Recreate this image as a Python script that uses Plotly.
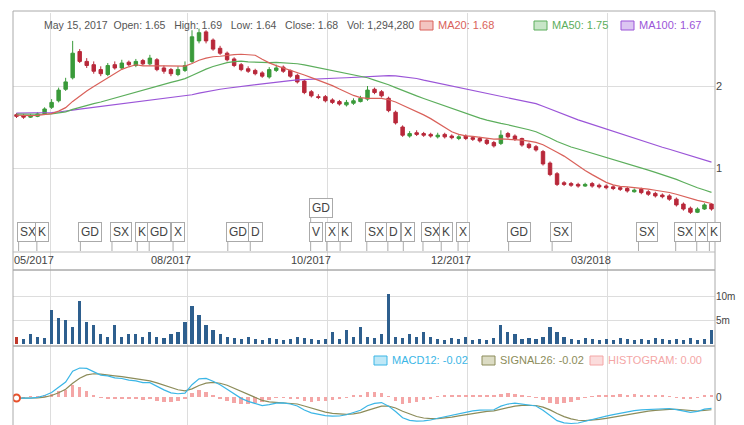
import plotly.graph_objects as go
import pandas as pd

prior_closes = [1.58,1.60,1.62,1.61,1.63,1.65,1.64,1.66,1.68,1.67,
 1.70,1.72,1.71,1.69,1.70,1.72,1.74,1.73,1.71,1.70,
 1.68,1.69,1.70,1.72,1.71,1.69,1.68,1.67,1.66,1.68,
 1.70,1.69,1.67,1.66,1.65,1.66,1.67,1.65,1.64,1.66,
 1.67,1.66,1.64,1.63,1.65,1.66,1.64,1.63,1.64,1.65]
opens = [1.65,1.64,1.62,1.63,1.66,1.74,1.82,1.96,2.10,2.42,
 2.30,2.26,2.20,2.14,2.26,2.22,2.29,2.25,2.31,2.27,
 2.32,2.22,2.20,2.14,2.19,2.30,2.55,2.66,2.56,2.46,
 2.40,2.33,2.26,2.21,2.19,2.16,2.11,2.19,2.23,2.19,
 2.13,2.06,1.93,1.87,1.87,1.83,1.81,1.77,1.79,1.81,
 1.84,1.96,1.93,1.85,1.68,1.50,1.39,1.43,1.42,1.41,
 1.38,1.41,1.39,1.36,1.39,1.37,1.36,1.34,1.31,1.30,
 1.42,1.39,1.36,1.29,1.26,1.20,1.06,0.93,0.82,0.81,
 0.80,0.78,0.81,0.79,0.78,0.77,0.76,0.75,0.71,0.74,
 0.71,0.69,0.67,0.66,0.62,0.56,0.51,0.46,0.50,0.56]
highs = [1.67,1.66,1.66,1.68,1.74,1.84,1.98,2.10,2.55,2.45,
 2.34,2.30,2.24,2.28,2.30,2.32,2.31,2.33,2.33,2.38,
 2.34,2.25,2.22,2.24,2.30,2.68,2.70,2.68,2.58,2.49,
 2.42,2.35,2.28,2.24,2.21,2.18,2.23,2.26,2.25,2.20,
 2.15,2.08,1.95,1.90,1.89,1.85,1.83,1.83,1.85,1.88,
 2.00,1.98,1.95,1.87,1.70,1.52,1.45,1.46,1.44,1.43,
 1.43,1.43,1.41,1.40,1.41,1.39,1.38,1.36,1.33,1.46,
 1.44,1.41,1.37,1.31,1.28,1.22,1.08,0.95,0.84,0.83,
 0.82,0.82,0.83,0.81,0.80,0.79,0.78,0.77,0.75,0.76,
 0.73,0.71,0.69,0.68,0.64,0.58,0.53,0.52,0.57,0.57]
lows = [1.61,1.60,1.61,1.62,1.65,1.72,1.80,1.94,2.08,2.28,
 2.22,2.15,2.12,2.12,2.20,2.20,2.24,2.23,2.25,2.25,
 2.18,2.15,2.12,2.12,2.17,2.28,2.52,2.52,2.43,2.38,
 2.30,2.23,2.18,2.16,2.13,2.10,2.09,2.17,2.16,2.10,
 2.03,1.90,1.86,1.84,1.80,1.78,1.76,1.75,1.77,1.80,
 1.82,1.90,1.86,1.68,1.53,1.38,1.37,1.39,1.38,1.37,
 1.36,1.36,1.35,1.34,1.34,1.33,1.31,1.28,1.25,1.28,
 1.36,1.33,1.26,1.23,1.20,1.03,0.90,0.78,0.78,0.77,
 0.76,0.77,0.76,0.75,0.74,0.73,0.72,0.70,0.70,0.68,
 0.66,0.64,0.63,0.60,0.53,0.48,0.44,0.45,0.49,0.48]
closes = [1.63,1.62,1.64,1.66,1.72,1.80,1.95,2.05,2.40,2.30,
 2.25,2.18,2.15,2.25,2.22,2.28,2.26,2.30,2.27,2.34,
 2.20,2.18,2.15,2.20,2.25,2.60,2.65,2.55,2.45,2.40,
 2.32,2.25,2.20,2.18,2.15,2.12,2.20,2.22,2.18,2.12,
 2.05,1.92,1.88,1.86,1.82,1.80,1.78,1.80,1.82,1.85,
 1.95,1.92,1.88,1.70,1.55,1.40,1.42,1.41,1.40,1.39,
 1.40,1.38,1.37,1.38,1.36,1.35,1.33,1.30,1.27,1.40,
 1.38,1.35,1.28,1.25,1.22,1.05,0.92,0.80,0.80,0.79,
 0.78,0.80,0.78,0.77,0.76,0.75,0.74,0.72,0.73,0.70,
 0.68,0.66,0.65,0.62,0.55,0.50,0.46,0.50,0.55,0.50]
volumes_m = [1.5,1.0,2.0,1.5,1.2,7.0,5.5,5.0,3.5,9.0,
 4.5,4.0,2.0,1.5,4.0,1.5,2.0,2.0,1.5,2.5,
 1.5,1.2,2.0,2.5,4.5,8.0,6.0,4.0,3.0,2.0,
 1.5,1.2,1.0,1.5,1.0,0.8,1.2,1.0,0.8,1.0,
 1.5,1.2,1.0,0.8,1.0,2.5,1.0,3.0,1.5,3.5,
 1.5,1.2,2.0,10.5,1.5,1.2,2.0,1.5,2.5,1.5,
 1.0,0.8,1.2,1.0,1.5,0.8,1.0,0.8,1.2,4.0,
 2.5,2.0,1.0,1.2,1.0,1.5,3.5,2.5,1.5,1.0,
 0.8,1.2,1.0,0.8,1.0,0.8,1.2,1.0,0.8,1.0,
 0.8,1.2,1.0,0.8,1.0,0.8,1.2,0.8,1.0,3.0]
date_ticks = [4.8, 24.4, 44.3, 64.2, 84.2]
date_labels = ["05/2017", "08/2017", "10/2017", "12/2017", "03/2018"]
flag_labels = ["SX","K","GD","SX","K","GD","X","GD","D","V","X","K","SX","D","X","SX","K","X","GD","SX","SX","SX","X","K"]
flag_idx =    [0.0,2.6,8.8,13.3,16.9,18.6,22.0,29.8,33.0,41.6,43.9,45.8,49.6,52.6,54.8,57.6,60.2,62.6,69.8,76.0,88.3,93.6,96.6,98.4]

n = len(closes)
x = list(range(n))
np_ = len(prior_closes)
s = pd.Series(prior_closes + closes)
ma20 = s.rolling(10, min_periods=1).mean()[np_:]
ma50 = s.rolling(25, min_periods=1).mean()[np_:]
ma100 = s.rolling(50, min_periods=1).mean()[np_:]
macd_all = s.ewm(span=6, adjust=False).mean() - s.ewm(span=13, adjust=False).mean()
sig_all = macd_all.ewm(span=5, adjust=False).mean()
macd = macd_all[np_:].reset_index(drop=True)
sig = sig_all[np_:].reset_index(drop=True)
hist = macd - sig

W, H = 744, 425
L, R = 5/W, 707/W
def py(p): return 1 - p/H

fig = go.Figure()
fig.add_trace(go.Candlestick(x=x, open=opens, high=highs, low=lows, close=closes,
    increasing=dict(line=dict(color="#3a9a3a", width=1), fillcolor="#3a9a3a"),
    decreasing=dict(line=dict(color="#b8283a", width=1), fillcolor="#b8283a"),
    whiskerwidth=0, xaxis="x", yaxis="y", showlegend=False))
fig.add_trace(go.Scatter(x=x, y=list(ma100), mode="lines", line=dict(color="#9b55d8", width=1.2), xaxis="x", yaxis="y", showlegend=False))
fig.add_trace(go.Scatter(x=x, y=list(ma50), mode="lines", line=dict(color="#5cae5c", width=1.2), xaxis="x", yaxis="y", showlegend=False))
fig.add_trace(go.Scatter(x=x, y=list(ma20), mode="lines", line=dict(color="#d9615a", width=1.2), xaxis="x", yaxis="y", showlegend=False))
vcol = ["#c0392b"] + ["#2e5f8e"]*(n-1)
fig.add_trace(go.Bar(x=x, y=volumes_m, marker=dict(color=vcol, line=dict(width=0)), width=0.45, xaxis="x2", yaxis="y2", showlegend=False))
fig.add_trace(go.Bar(x=x, y=hist, marker=dict(color="#f4a6a6", line=dict(width=0)), width=0.5, xaxis="x3", yaxis="y3", showlegend=False))
fig.add_trace(go.Scatter(x=x, y=sig, mode="lines", line=dict(color="#8c8c5a", width=1.2), xaxis="x3", yaxis="y3", showlegend=False))
fig.add_trace(go.Scatter(x=x, y=macd, mode="lines", line=dict(color="#3bb6e6", width=1.2), xaxis="x3", yaxis="y3", showlegend=False))
fig.add_trace(go.Scatter(x=[0], y=[macd[0]], mode="markers", marker=dict(color="white", size=7, line=dict(color="#e8502a", width=2)), xaxis="x3", yaxis="y3", showlegend=False))

k = float(macd.abs().max())/29.0
xr = [-0.5, n-0.5]
xcommon = dict(range=xr, tickvals=date_ticks, showticklabels=False, showgrid=True, gridcolor="#dddddd", zeroline=False, ticks="")
fig.update_layout(
    width=W, height=H, margin=dict(l=0, r=0, t=0, b=0), plot_bgcolor="white", paper_bgcolor="white",
    bargap=0, font=dict(family="Arial, Liberation Sans", size=11, color="#555"),
    xaxis=dict(domain=[L, R], anchor="y", rangeslider=dict(visible=False), **xcommon),
    xaxis2=dict(domain=[L, R], anchor="y2", **xcommon),
    xaxis3=dict(domain=[L, R], anchor="y3", **xcommon),
    yaxis=dict(domain=[py(262), py(5)], range=[2-184/82, 2+73/82], side="right", tickvals=[1, 2], ticktext=["1", "2"],
               showgrid=True, gridcolor="#dddddd", zeroline=False, ticks="", tickfont=dict(size=11, color="#444")),
    yaxis2=dict(domain=[py(338), py(262)], range=[-2/4.8, 74/4.8], side="right", tickvals=[5, 10], ticktext=["5m", "10m"],
                showgrid=True, gridcolor="#dddddd", zeroline=False, ticks="", tickfont=dict(size=10, color="#444")),
    yaxis3=dict(domain=[0, py(338)], range=[-(425-389)*k, (389-338)*k], side="right", tickvals=[0], ticktext=["0"],
                showgrid=False, zeroline=False, ticks="", tickfont=dict(size=10, color="#444")),
)

shapes = []
for top, bot in [(3, 262), (262, 338), (338, 424)]:
    shapes.append(dict(type="rect", xref="paper", yref="paper", x0=L, x1=R, y0=py(bot), y1=py(top), line=dict(color="#aaaaaa", width=1)))
shapes.append(dict(type="line", xref="paper", yref="paper", x0=L, x1=R, y0=py(244), y1=py(244), line=dict(color="#bbbbbb", width=1)))
anns = []
anns.append(dict(xref="paper", yref="paper", x=34/W, y=py(17), xanchor="left", yanchor="middle", showarrow=False,
    text="May 15, 2017  Open: 1.65   High: 1.69   Low: 1.64   Close: 1.68   Vol: 1,294,280", font=dict(size=10.5, color="#555")))
for bx, txt, col, fill, yy in [(412, "MA20: 1.68", "#d9615a", "#f3c4c1", 17), (526, "MA50: 1.75", "#5cae5c", "#c8e6c8", 17), (613, "MA100: 1.67", "#9b55d8", "#dcc6f2", 17),
                           (366, "MACD12: -0.02", "#3bb6e6", "#bfe8f7", 352), (474, "SIGNAL26: -0.02", "#8c8c5a", "#dcdcc4", 352), (582, "HISTOGRAM: 0.00", "#f4a6a6", "#fbdcdc", 352)]:
    shapes.append(dict(type="rect", xref="paper", yref="paper", x0=bx/W, x1=(bx+13)/W, y0=py(yy+5), y1=py(yy-4), fillcolor=fill, line=dict(color=col, width=1)))
    anns.append(dict(xref="paper", yref="paper", x=(bx+16)/W, y=py(yy), xanchor="left", yanchor="middle", showarrow=False, text=txt, font=dict(size=11, color=col)))
for t, lab in zip(date_ticks, date_labels):
    anns.append(dict(xref="x", yref="paper", x=t+0.8, y=py(252), xanchor="right", yanchor="middle", showarrow=False, text=lab, font=dict(size=11, color="#444")))
for lab, i in zip(flag_labels, flag_idx):
    anns.append(dict(xref="x", yref="paper", x=i, y=py(224), xanchor="left", yanchor="middle", showarrow=False, text=lab,
                     font=dict(size=12, color="#444"), bgcolor="white", bordercolor="#aaaaaa", borderwidth=1, borderpad=2))
    shapes.append(dict(type="line", xref="x", yref="paper", x0=i+0.3, x1=i+0.3, y0=py(243), y1=py(234), line=dict(color="#aaaaaa", width=1)))
anns.append(dict(xref="x", yref="paper", x=41.6, y=py(200), xanchor="left", yanchor="middle", showarrow=False, text="GD",
                 font=dict(size=12, color="#444"), bgcolor="white", bordercolor="#aaaaaa", borderwidth=1, borderpad=2))
shapes.append(dict(type="line", xref="x", yref="paper", x0=41.9, x1=41.9, y0=py(215), y1=py(209), line=dict(color="#aaaaaa", width=1)))
fig.update_layout(shapes=shapes, annotations=anns)
fig.write_html("out.html")
